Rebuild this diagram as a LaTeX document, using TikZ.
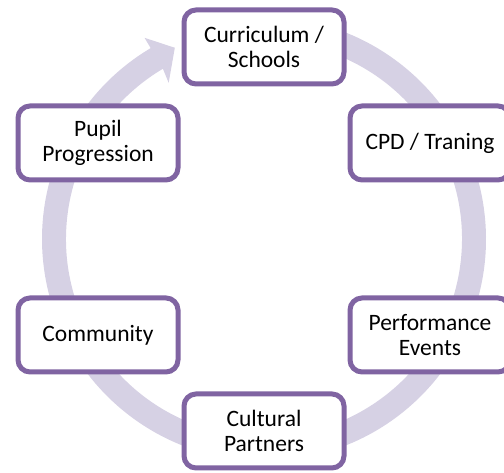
\documentclass[tikz,border=0pt]{standalone}
\usepackage{fontspec}
\setmainfont{Carlito}
\definecolor{boxpurple}{RGB}{128,100,162}
\definecolor{ringlilac}{RGB}{214,209,228}
\tikzset{
  cyclebox/.style={draw=boxpurple, line width=5pt, fill=white, rounded corners=12pt,
    minimum width=160pt, minimum height=74pt, align=center, inner sep=2pt,
    font=\fontsize{23.5pt}{25pt}\selectfont},
  ringfill/.style={fill=ringlilac, draw=none}
}
\begin{document}
\begin{tikzpicture}[x=1pt,y=1pt]
\useasboundingbox (0,0) rectangle (504,473);
\clip (0,0) rectangle (504,473);
\begin{scope}[shift={(264pt,234pt)}]
  \fill[ringfill] (95:222pt) arc[start angle=95, end angle=-239.3, radius=222pt]
    -- (-239.3:234pt) -- (-245:211pt) -- (-238.6:183pt) -- (-239.3:198pt)
    arc[start angle=-239.3, end angle=95, radius=198pt] -- cycle;
\end{scope}
\node[cyclebox] (curr) at (264,426) {Curriculum /\\Schools};
\node[cyclebox] (cpd) at (430,330) {CPD / Traning};
\node[cyclebox] (perf) at (430,138) {Performance\\Events};
\node[cyclebox] (cult) at (264,42) {Cultural\\Partners};
\node[cyclebox] (comm) at (98,138) {Community};
\node[cyclebox] (pupil) at (98,330) {Pupil\\Progression};
\end{tikzpicture}
\end{document}
